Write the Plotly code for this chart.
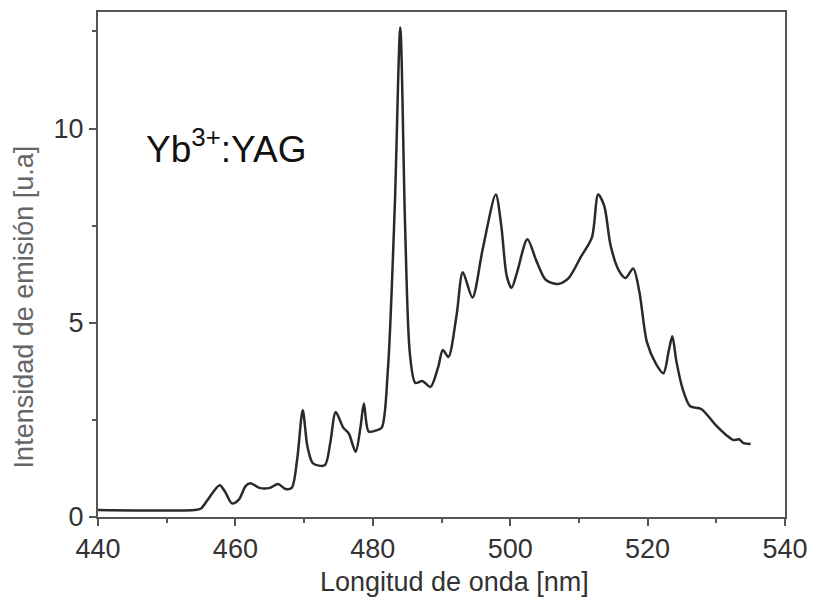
import plotly.graph_objects as go

wavelength_nm = [440, 454, 455, 456, 457.7, 458.5, 459.5, 460.5, 461.5, 462.2, 463.5, 465,
                 466.2, 467.3, 468.2, 469, 469.8, 470.5, 471.3, 473, 473.8, 474.6, 475.7,
                 476.5, 477.5, 478.2, 478.7, 479.4, 480.5, 481.3, 482.2, 483.2, 484.0,
                 484.7, 485.4, 486.2, 487.2, 488.4, 489.5, 490.2, 491.0, 492.2, 493.1,
                 494.5, 496.0, 497.9, 498.7, 499.5, 500.2, 501.0, 502.5, 503.8, 505.2,
                 507, 508.5, 510.3, 511.9, 512.8, 513.7, 514.6, 515.8, 516.8, 517.9,
                 518.8, 519.9, 521.2, 522.3, 523.1, 523.6, 524.2, 525.1, 526.2, 527.8,
                 530, 531.5, 532.5, 533.3, 534, 535]
intensity = [0.18, 0.18, 0.22, 0.45, 0.82, 0.65, 0.35, 0.45, 0.8, 0.87, 0.75, 0.75,
             0.85, 0.72, 0.75, 1.5, 2.75, 1.8, 1.38, 1.33, 1.9, 2.7, 2.3,
             2.15, 1.68, 2.3, 2.92, 2.2, 2.23, 2.3, 3.8, 8.0, 12.6,
             7.5, 4.2, 3.45, 3.5, 3.35, 3.85, 4.3, 4.12, 5.2, 6.3,
             5.65, 6.9, 8.3, 7.5, 6.2, 5.9, 6.3, 7.15, 6.6, 6.1,
             6.0, 6.15, 6.7, 7.2, 8.3, 8.0, 7.0, 6.35, 6.15, 6.4,
             5.8, 4.5, 3.95, 3.7, 4.3, 4.65, 4.0, 3.3, 2.85, 2.78,
             2.35, 2.1, 1.98, 2.0, 1.9, 1.88]

x_ticks = [440, 460, 480, 500, 520, 540]
y_ticks = [0, 5, 10]
x_title = "Longitud de onda [nm]"
y_title = "Intensidad de emisión [u.a]"
label_text = "Yb<sup>3+</sup>:YAG"

FONT = "Liberation Sans, Arial, sans-serif"

fig = go.Figure()
fig.add_trace(go.Scatter(
    x=wavelength_nm, y=intensity, mode="lines",
    line=dict(color="#2a2a2a", width=2.5, shape="spline", smoothing=0.8),
    showlegend=False, hoverinfo="skip",
))

fig.add_annotation(
    x=458.6, y=9.55, xref="x", yref="y", text=label_text, showarrow=False,
    font=dict(family=FONT, size=37, color="#111111"),
)
# axis titles placed as annotations to match the reference placement
fig.add_annotation(
    x=-0.1085, y=0.416, xref="paper", yref="paper", text=y_title, showarrow=False,
    textangle=-90, xanchor="center", yanchor="middle",
    font=dict(family=FONT, size=27, color="#666666"),
)
fig.add_annotation(
    x=0.5195, y=-0.128, xref="paper", yref="paper", text=x_title, showarrow=False,
    xanchor="center", yanchor="middle",
    font=dict(family=FONT, size=27, color="#333333"),
)

axis_common = dict(
    showline=True, linecolor="#555555", linewidth=2, mirror=True,
    showgrid=False, zeroline=False,
    ticks="outside", ticklen=7, tickwidth=2, tickcolor="#555555",
    tickfont=dict(family=FONT, size=27, color="#333333"),
)

fig.update_xaxes(
    range=[440, 540], tickvals=x_ticks,
    minor=dict(dtick=10, ticks="outside", ticklen=4, tickwidth=2, tickcolor="#555555"),
    **axis_common,
)
fig.update_yaxes(
    range=[0, 13], tickvals=y_ticks,
    minor=dict(dtick=2.5, ticks="outside", ticklen=4, tickwidth=2, tickcolor="#555555"),
    **axis_common,
)

fig.update_layout(
    width=818, height=604,
    margin=dict(l=98, r=29, t=10, b=87),
    paper_bgcolor="white", plot_bgcolor="white",
    font=dict(family=FONT),
)

fig.write_html("out.html")
